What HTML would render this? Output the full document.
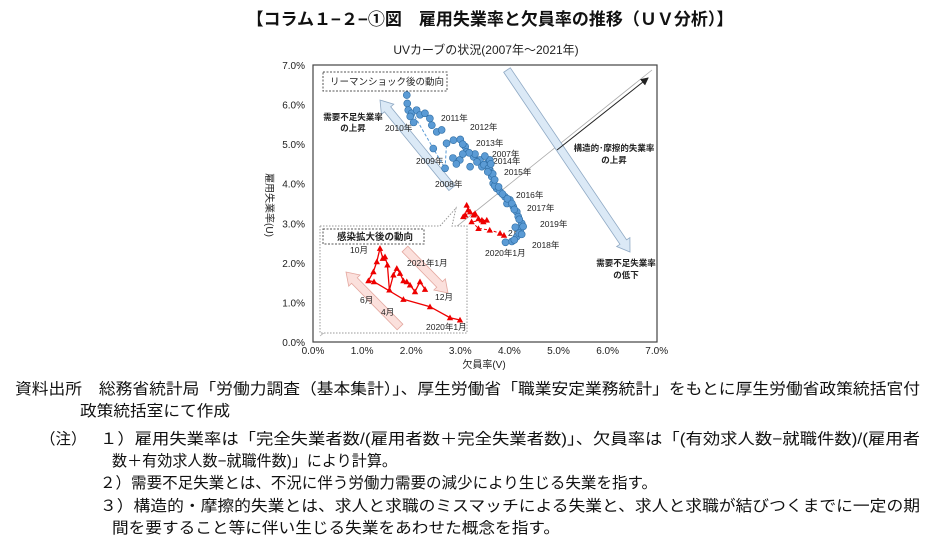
<!DOCTYPE html>
<html><head><meta charset="utf-8"><style>
body{margin:0;background:#fff;}
svg{display:block;font-family:"Liberation Sans","Noto Sans CJK JP",sans-serif;}
</style></head><body>
<svg id="c" width="933" height="545" viewBox="0 0 933 545">
<defs>
<marker id="ah" markerWidth="8" markerHeight="8" refX="7" refY="4" orient="auto"><path d="M0,0 L8,4 L0,8 z" fill="#222"/></marker>
</defs>
<text x="490" y="25" text-anchor="middle" font-size="17" font-weight="bold" fill="#111">【コラム１−２−①図　雇用失業率と欠員率の推移（ＵＶ分析）】</text>
<text x="486" y="54" text-anchor="middle" font-size="12" fill="#222">UVカーブの状況(2007年～2021年)</text>
<rect x="313" y="65" width="344" height="277" fill="#fff" stroke="#444" stroke-width="1.2"/>
<g id="axes"></g>
<g id="deco"></g>
<g id="marks"></g>
<text transform="translate(266,205) rotate(90)" text-anchor="middle" font-size="10" fill="#222">雇用失業率(U)</text>
<text x="484" y="368" text-anchor="middle" font-size="10" fill="#222">欠員率(V)</text>
<g font-size="15.5" fill="#111">
<text x="15" y="394" textLength="905" lengthAdjust="spacingAndGlyphs">資料出所　総務省統計局「労働力調査（基本集計）」、厚生労働省「職業安定業務統計」をもとに厚生労働省政策統括官付</text>
<text x="80" y="416" textLength="150" lengthAdjust="spacingAndGlyphs">政策統括室にて作成</text>
<text x="40" y="444">（注）</text>
<text x="100" y="444" textLength="820" lengthAdjust="spacingAndGlyphs">１）雇用失業率は「完全失業者数/(雇用者数＋完全失業者数)」、欠員率は「(有効求人数−就職件数)/(雇用者</text>
<text x="112" y="466" textLength="285" lengthAdjust="spacingAndGlyphs">数＋有効求人数−就職件数)」により計算。</text>
<text x="100" y="488" textLength="557" lengthAdjust="spacingAndGlyphs">２）需要不足失業とは、不況に伴う労働力需要の減少により生じる失業を指す。</text>
<text x="100" y="511" textLength="820" lengthAdjust="spacingAndGlyphs">３）構造的・摩擦的失業とは、求人と求職のミスマッチによる失業と、求人と求職が結びつくまでに一定の期</text>
<text x="112" y="533" textLength="448" lengthAdjust="spacingAndGlyphs">間を要すること等に伴い生じる失業をあわせた概念を指す。</text>
</g>
</svg>
<script>
const tickValues=[0,1,2,3,4,5,6,7];
const tickLabels=["0.0%","1.0%","2.0%","3.0%","4.0%","5.0%","6.0%","7.0%"];
const blueVac=[1.91,1.92,1.94,2.01,2.11,2.18,2.28,2.38,2.42,2.52,2.62,2.72,2.86,3.0,3.10,3.13,3.27,3.40,3.54,3.60,3.64,3.67,3.74,3.81,3.91,4.01,4.08,4.15,4.18,4.25,4.22,4.15,4.05,2.45,2.69,2.85,2.99,3.20,3.44,3.60,3.50,3.30,2.05,1.98,3.70,3.95,4.12,4.20,3.05,3.18,3.34,3.48,3.58,3.66,3.70,3.78,3.86,3.96,4.05,4.10,4.20,4.28,4.25,4.10,3.92,2.92,3.05,3.62,3.56];
const blueUnemp=[6.24,6.03,5.86,5.78,5.86,5.74,5.78,5.65,5.48,5.31,5.36,5.02,5.10,5.12,4.94,4.81,4.68,4.60,4.51,4.35,4.18,4.01,3.88,3.80,3.67,3.59,3.42,3.29,3.17,3.00,2.83,2.66,2.54,4.89,4.39,4.65,4.60,4.43,4.43,4.60,4.70,4.75,5.55,5.70,3.95,3.50,2.90,2.75,5.00,4.78,4.55,4.48,4.40,4.25,4.10,3.92,3.74,3.62,3.50,3.35,3.10,2.92,2.72,2.58,2.52,4.50,4.75,4.50,4.30];
const redVac=[3.13,3.16,3.10,3.06,3.20,3.27,3.30,3.37,3.44,3.47,3.54,3.23,3.37,3.60,3.81,3.89];
const redUnemp=[3.46,3.34,3.21,3.17,3.29,3.21,3.25,3.12,3.08,3.04,3.08,3.04,2.87,2.83,2.75,2.70];
const insetV=[7.0,6.5,5.5,4.17,2.7,2.42,2.67,2.84,3.0,3.14,3.25,3.37,3.47,3.67,3.84,4.0,4.17,4.34,4.5,4.75,5.0,5.25];
const insetU=[1.5,1.73,2.83,3.57,5.33,5.43,6.33,7.33,8.67,7.67,7.83,7.0,4.5,6.0,6.67,6.17,5.43,5.33,5.0,4.33,5.33,4.57];
const xS=v=>313+v*49.1, yS=u=>342-u*39.57;
const ixS=v=>320+v*20, iyS=u=>335-u*10;
const NS="http://www.w3.org/2000/svg";
function mk(tag,attrs,parent,txt){const e=document.createElementNS(NS,tag);for(const k in attrs)e.setAttribute(k,attrs[k]);if(txt!==undefined)e.textContent=txt;parent.appendChild(e);return e;}
const axes=document.getElementById('axes'),deco=document.getElementById('deco'),marks=document.getElementById('marks');
tickValues.forEach((t,i)=>{
 const a=mk('text',{x:305,y:yS(t)+4,'text-anchor':'end','font-size':10,fill:'#222'},axes,tickLabels[i]);
 
 
 const b=mk('text',{x:xS(t),y:354,'text-anchor':'middle','font-size':10,fill:'#222'},axes,tickLabels[i]);
 
 
});
function fatArrow(x1,y1,x2,y2,w,fill,stroke,name){
 const dx=x2-x1,dy=y2-y1,L=Math.hypot(dx,dy),ux=dx/L,uy=dy/L,px=-uy,py=ux,h=12,hw=w;
 const bx=x2-ux*h,by=y2-uy*h,s=w/2;
 const pts=[[x1+px*s,y1+py*s],[bx+px*s,by+py*s],[bx+px*hw,by+py*hw],[x2,y2],[bx-px*hw,by-py*hw],[bx-px*s,by-py*s],[x1-px*s,y1-py*s]];
 const e=mk('polygon',{points:pts.map(p=>p.join(',')).join(' '),fill:fill,stroke:stroke,'stroke-width':0.8},deco);
 
 
}
const diag=mk('line',{x1:320,y1:336,x2:652,y2:70,stroke:'#aaa','stroke-width':0.8},deco);


fatArrow(507,70,630,252,8,'#dbe9f6','#8fa9c4','demand-shortage-decline-arrow');
fatArrow(452,188,380,100,8,'#dbe9f6','#8fa9c4','demand-shortage-rise-arrow');
const sa=mk('line',{x1:557,y1:150,x2:648,y2:78,stroke:'#222','stroke-width':1,'marker-end':'url(#ah)'},deco);


const lb=mk('rect',{x:323,y:72,width:124,height:19,fill:'#fff',stroke:'#555','stroke-dasharray':'2,1.5'},deco);


function label(x,y,s,name,opt){const e=mk('text',Object.assign({x:x,y:y,'font-size':8.5,fill:'#222'},opt||{}),deco,s);return e;}
label(330,85,'リーマンショック後の動向','lehman-box-label',{'font-size':9.5});
label(353,120,'需要不足失業率','demand-rise-text',{'text-anchor':'middle','font-weight':'bold'});
label(353,131,'の上昇','demand-rise-text2',{'text-anchor':'middle','font-weight':'bold'});
label(614,151,'構造的･摩擦的失業率','structural-text',{'text-anchor':'middle','font-weight':'bold'});
label(614,163,'の上昇','structural-text2',{'text-anchor':'middle','font-weight':'bold'});
label(626,266,'需要不足失業率','demand-decline-text',{'text-anchor':'middle','font-weight':'bold'});
label(626,278,'の低下','demand-decline-text2',{'text-anchor':'middle','font-weight':'bold'});
const bp=mk('polyline',{points:[[1.92,6.03],[2.45,4.89],[2.69,4.39],[2.72,5.02]].map(p=>xS(p[0])+','+yS(p[1])).join(' '),fill:'none',stroke:'#5b9bd5','stroke-dasharray':'3,2','stroke-width':1},marks);


blueVac.forEach((v,i)=>{
 const c=mk('circle',{cx:xS(v),cy:yS(blueUnemp[i]),r:3.5,fill:'#5b9bd5',stroke:'#2e6da4','stroke-width':0.6},marks);
 
 
});
const rp=mk('polyline',{points:redVac.map((v,i)=>xS(v)+','+yS(redUnemp[i])).join(' '),fill:'none',stroke:'#e00','stroke-dasharray':'3,2','stroke-width':1},marks);


function tri(x,y,s,name){const e=mk('polygon',{points:`${x},${y-s} ${x-s},${y+s*0.8} ${x+s},${y+s*0.8}`,fill:'#e00'},marks);}
redVac.forEach((v,i)=>tri(xS(v),yS(redUnemp[i]),3.2,'red-point'));
[[441,121,'2011年'],[470,130,'2012年'],[385,131,'2010年'],[476,146,'2013年'],[492,157,'2007年'],[493,164,'2014年'],[504,175,'2015年'],[416,164,'2009年'],[435,187,'2008年'],[516,198,'2016年'],[527,211,'2017年'],[540,227,'2019年'],[508,236,'2月'],[532,248,'2018年'],[485,256,'2020年1月']].forEach(a=>label(a[0],a[1],a[2],'year-label',{'font-size':8.5}));
const cal=mk('polygon',{points:'320,226 440,226 456,208 452,226 467,226 467,333 320,333',fill:'#fff',stroke:'#999','stroke-dasharray':'1.5,1.5'},deco);


const ib=mk('rect',{x:323,y:229,width:101,height:15,fill:'#fff',stroke:'#555','stroke-dasharray':'2,1.5'},deco);


label(337,240,'感染拡大後の動向','inset-title',{'font-size':9.5,'font-weight':'bold'});
fatArrow(400,327,346,272,8,'#fbe0dc','#e4a8a0','inset-rise-arrow');
fatArrow(405,249,448,293,8,'#fbe0dc','#e4a8a0','inset-decline-arrow');
const ip=mk('polyline',{points:insetV.map((v,i)=>ixS(v)+','+iyS(insetU[i])).join(' '),fill:'none',stroke:'#e00','stroke-width':1.3},marks);


insetV.forEach((v,i)=>tri(ixS(v),iyS(insetU[i]),3.2,'inset-point'));
[[350,253,'10月'],[407,266,'2021年1月'],[360,303,'6月'],[381,315,'4月'],[435,300,'12月'],[426,330,'2020年1月']].forEach(a=>label(a[0],a[1],a[2],'inset-month-label',{'font-size':8.5}));
</script>
</body></html>
